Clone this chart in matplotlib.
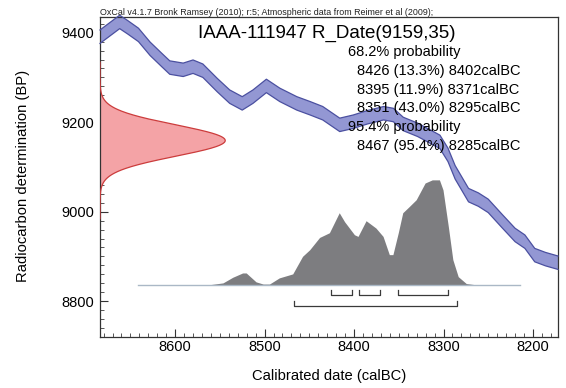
import numpy as np
import matplotlib
matplotlib.use("Agg")
import matplotlib.pyplot as plt
from matplotlib.ticker import MultipleLocator

plt.rcParams['font.family'] = ['Liberation Sans', 'DejaVu Sans']

# Sample: radiocarbon determination
sample_name = "IAAA-111947"
date_bp = 9159
date_err = 35

# IntCal09 atmospheric curve (cal BC vs BP), 1-sigma half-width
cal_years = [8684, 8662, 8653, 8641, 8628, 8615, 8606, 8591, 8580, 8569,
             8553, 8539, 8525, 8513, 8498, 8483, 8464, 8449, 8435, 8416,
             8401, 8385, 8367, 8356, 8345, 8329, 8315, 8304, 8295, 8287,
             8272, 8261, 8250, 8234, 8220, 8209, 8198, 8186, 8172]
cal_bp = [9391, 9424, 9412, 9395, 9364, 9339, 9322, 9317, 9324, 9315,
          9283, 9257, 9242, 9257, 9281, 9261, 9242, 9231, 9220, 9194,
          9201, 9211, 9220, 9216, 9196, 9183, 9168, 9156, 9127, 9088,
          9037, 9027, 9013, 8978, 8948, 8933, 8903, 8894, 8886]
cal_sigma = 15

# Calibrated probability distribution (relative)
prob_years = [8641, 8560, 8546, 8535, 8524, 8520, 8509, 8501, 8494, 8483,
              8468, 8457, 8449, 8438, 8427, 8416, 8410, 8399, 8395, 8386,
              8375, 8367, 8360, 8356, 8350, 8345, 8338, 8330, 8320, 8312,
              8304, 8300, 8294, 8289, 8283, 8274, 8265, 8215]
prob_rel = [0.0, 0.0, 0.016, 0.07, 0.111, 0.111, 0.026, 0.005, 0.005, 0.064,
            0.102, 0.27, 0.333, 0.45, 0.495, 0.686, 0.60, 0.476, 0.46, 0.61,
            0.54, 0.46, 0.286, 0.286, 0.495, 0.686, 0.743, 0.81, 0.97, 1.0,
            1.0, 0.905, 0.552, 0.238, 0.076, 0.01, 0.0, 0.0]

# Highest posterior density ranges
ranges_68 = [(8426, 8402), (8395, 8371), (8351, 8295)]
ranges_95 = [(8467, 8285)]
range_lines = [
    ("68.2% probability", False),
    ("8426 (13.3%) 8402calBC", True),
    ("8395 (11.9%) 8371calBC", True),
    ("8351 (43.0%) 8295calBC", True),
    ("95.4% probability", False),
    ("8467 (95.4%) 8285calBC", True),
]

W, H = 566, 388
fig = plt.figure(figsize=(W / 100, H / 100), dpi=100)
ax = fig.add_axes([100 / W, 1 - 337 / H, 458 / W, 320 / H])

x_left, x_right = 8684, 8172
y_bottom, y_top = 8720, 9435
ax.set_xlim(x_left, x_right)
ax.set_ylim(y_bottom, y_top)

# Calibration curve band
cy = np.array(cal_bp, dtype=float)
ax.fill_between(cal_years, cy - cal_sigma, cy + cal_sigma,
                facecolor='#9397d3', edgecolor='none', zorder=2, clip_on=False)
ax.plot(cal_years, cy + cal_sigma, color='#4b50a0', lw=0.9, zorder=3, clip_on=False)
ax.plot(cal_years, cy - cal_sigma, color='#4b50a0', lw=0.9, zorder=3, clip_on=False)

# Radiocarbon date as a normal distribution on the BP axis
yy = np.linspace(date_bp - 5 * date_err, date_bp + 5 * date_err, 500)
dens = np.exp(-0.5 * ((yy - date_bp) / date_err) ** 2)
red_width = 140
ax.fill_betweenx(yy, x_left, x_left - dens * red_width,
                 facecolor='#f4a3a6', edgecolor='none', zorder=2)
ax.plot(x_left - dens * red_width, yy, color='#cc3c3c', lw=0.9, zorder=3)

# Calibrated distribution
base_bp = 8836
prob_scale = 234
pr = np.array(prob_rel)
ax.fill_between(prob_years, base_bp, base_bp + pr * prob_scale,
                facecolor='#7d7d80', edgecolor='none', zorder=2)
ax.plot([prob_years[0], prob_years[-1]], [base_bp, base_bp],
        color='#aab8c6', lw=1.0, zorder=3)

# Range brackets
def bracket(start, end, top, bottom):
    ax.plot([start, start, end, end], [top, bottom, bottom, top],
            color='#3a3a3a', lw=0.9, zorder=3)

for s, e in ranges_68:
    bracket(s, e, 8824, 8814)
for s, e in ranges_95:
    bracket(s, e, 8800, 8790)

# Axes styling
for sp in ax.spines.values():
    sp.set_color('#333333')
    sp.set_linewidth(0.9)
ax.xaxis.set_major_locator(MultipleLocator(100))
ax.xaxis.set_minor_locator(MultipleLocator(10))
ax.yaxis.set_major_locator(MultipleLocator(200))
ax.yaxis.set_minor_locator(MultipleLocator(20))
ax.tick_params(axis='both', which='major', direction='in', length=6,
               width=0.8, color='#333333', labelsize=10.5)
ax.tick_params(axis='both', which='minor', direction='in', length=3,
               width=0.7, color='#555555')
ax.tick_params(axis='x', which='major', pad=2)
ax.tick_params(axis='y', which='major', pad=4)

fig.text(329 / W, 1 - 376 / H, "Calibrated date (calBC)", ha='center',
         va='center', fontsize=10.6)
fig.text(23 / W, 1 - 176 / H, "Radiocarbon determination (BP)", ha='center',
         va='center', rotation=90, fontsize=10.6)

# Header and sample text
fig.text(100 / W, 1 - 15 / H,
         "OxCal v4.1.7 Bronk Ramsey (2010); r:5; Atmospheric data from Reimer et al (2009);",
         ha='left', va='baseline', fontsize=6.4, color='#222222')
fig.text(327 / W, 1 - 38 / H, f"{sample_name} R_Date({date_bp},{date_err})",
         ha='center', va='baseline', fontsize=13.5)
y0 = 56
for i, (txt, indent) in enumerate(range_lines):
    x0 = 357 if indent else 348
    fig.text(x0 / W, 1 - (y0 + i * 18.8) / H, txt, ha='left', va='baseline',
             fontsize=10.5, zorder=5)

fig.savefig("out.png", dpi=100)
